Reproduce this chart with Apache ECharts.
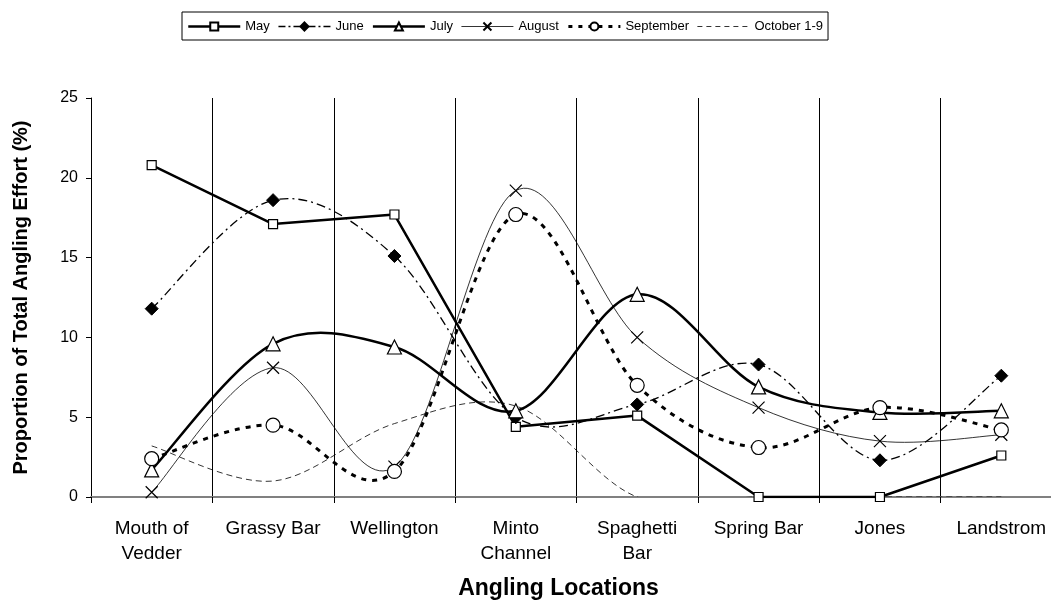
<!DOCTYPE html>
<html>
<head>
<meta charset="utf-8">
<script src="https://cdn.jsdelivr.net/npm/echarts@6/dist/echarts.min.js"></script>
<style>
  html, body { margin: 0; padding: 0; background: #fff; overflow: hidden; }
  #chart { width: 1080px; height: 600px; }
</style>
</head>
<body>
<div id="chart"></div>
<script>
const categories = ['Mouth of\nVedder', 'Grassy Bar', 'Wellington', 'Minto\nChannel', 'Spaghetti\nBar', 'Spring Bar', 'Jones', 'Landstrom'];
const may       = [20.8, 17.1, 17.7, 4.4, 5.1, 0, 0, 2.6];
const june      = [11.8, 18.6, 15.1, 5.0, 5.8, 8.3, 2.3, 7.6];
const july      = [1.7, 9.6, 9.4, 5.4, 12.7, 6.9, 5.3, 5.4];
const august    = [0.3, 8.1, 1.9, 19.2, 10.0, 5.6, 3.5, 3.9];
const september = [2.4, 4.5, 1.6, 17.7, 7.0, 3.1, 5.6, 4.2];
const october   = [3.2, 1.0, 4.6, 5.7, 0, 0, 0, 0];
const yTicks = [0, 5, 10, 15, 20, 25];

const FONT = 'Liberation Sans, Arial, sans-serif';
const chart = echarts.init(document.getElementById('chart'), null, { renderer: 'canvas' });

// Marker series (line hidden; curve drawn by a companion custom series)
function markers(name, values, symbol, size, itemStyle) {
  return {
    name: name, type: 'line', data: values, z: 4,
    symbol: symbol, symbolSize: size, showSymbol: symbol !== 'none',
    lineStyle: { opacity: 0, width: 0 },
    itemStyle: itemStyle,
    emphasis: { disabled: true },
    animation: false
  };
}

// Smoothed curve (Catmull-Rom style Bezier, like a spreadsheet "smoothed line"), positioned via the axes
function curve(name, values, lineWidth, dash) {
  return {
    name: name, type: 'custom', z: 2, silent: true, animation: false, clip: true,
    data: [[0, values[0]]],
    renderItem: function (params, api) {
      const pts = values.map(function (v, i) { return api.coord([i, v]); });
      let d = 'M' + pts[0][0] + ',' + pts[0][1];
      for (let i = 0; i < pts.length - 1; i++) {
        const p0 = pts[i - 1] || pts[i], p1 = pts[i], p2 = pts[i + 1], p3 = pts[i + 2] || pts[i + 1];
        const c1x = p1[0] + (p2[0] - p0[0]) / 6, c1y = p1[1] + (p2[1] - p0[1]) / 6;
        const c2x = p2[0] - (p3[0] - p1[0]) / 6, c2y = p2[1] - (p3[1] - p1[1]) / 6;
        d += ' C' + c1x + ',' + c1y + ' ' + c2x + ',' + c2y + ' ' + p2[0] + ',' + p2[1];
      }
      return {
        type: 'path',
        shape: { pathData: d },
        style: { stroke: '#000', fill: 'none', lineWidth: lineWidth, lineDash: dash || null }
      };
    }
  };
}

const hollow = { color: '#fff', borderColor: '#000', borderWidth: 1.2 };

const option = {
  backgroundColor: '#fff',
  animation: false,
  legend: {
    left: 182,
    top: 12,
    orient: 'horizontal',
    borderColor: '#000',
    borderWidth: 1,
    padding: [8, 5, 7, 5],
    itemWidth: 52,
    itemHeight: 10,
    itemGap: 8,
    selectedMode: false,
    textStyle: { fontFamily: FONT, fontSize: 13, color: '#000' },
    data: [
      { name: 'May', lineStyle: { opacity: 1, width: 2.5, color: '#000', type: 'solid' } },
      { name: 'June', lineStyle: { opacity: 1, width: 1.3, color: '#000', type: [7, 3, 2, 3] } },
      { name: 'July', lineStyle: { opacity: 1, width: 2.5, color: '#000', type: 'solid' } },
      { name: 'August', lineStyle: { opacity: 1, width: 0.8, color: '#000', type: 'solid' } },
      { name: 'September', lineStyle: { opacity: 1, width: 3, color: '#000', type: [4, 6] } },
      { name: 'October 1-9', lineStyle: { opacity: 1, width: 0.8, color: '#000', type: [5, 4] }, itemStyle: { opacity: 0 } }
    ]
  },
  grid: { left: 91, top: 98, width: 971, height: 399, containLabel: false, outerBoundsMode: 'none' },
  xAxis: {
    type: 'category',
    data: categories,
    boundaryGap: true,
    name: 'Angling Locations',
    nameLocation: 'middle',
    nameGap: 80,
    nameTextStyle: { fontFamily: FONT, fontSize: 23, fontWeight: 'bold', color: '#000', padding: [0, 36, 0, 0] },
    axisLine: { show: true, lineStyle: { color: '#808080', width: 2 } },
    axisTick: { show: true, interval: 0, length: 6, lineStyle: { color: '#000', width: 1 } },
    axisLabel: { interval: 0, margin: 19, fontFamily: FONT, fontSize: 19, color: '#000', lineHeight: 25 },
    splitLine: { show: true, interval: 0, lineStyle: { color: '#000', width: 1 } }
  },
  yAxis: {
    type: 'value',
    min: 0,
    max: 25,
    interval: 5,
    name: 'Proportion of Total Angling Effort (%)',
    nameLocation: 'middle',
    nameGap: 60,
    nameRotate: 90,
    nameTextStyle: { fontFamily: FONT, fontSize: 20, fontWeight: 'bold', color: '#000' },
    axisLine: { show: true, lineStyle: { color: '#000', width: 1 } },
    axisTick: { show: true, length: 5, lineStyle: { color: '#000' } },
    axisLabel: { margin: 13, fontFamily: FONT, fontSize: 16, color: '#000',
      formatter: function (v) { return yTicks.indexOf(v) >= 0 ? String(v) : ''; } },
    splitLine: { show: false }
  },
  series: [
    {
      name: 'May', type: 'line', data: may, z: 3, smooth: false, animation: false,
      symbol: 'rect', symbolSize: 9,
      lineStyle: { color: '#000', width: 2.5 },
      itemStyle: hollow,
      emphasis: { disabled: true }
    },
    markers('June', june, 'diamond', 13, { color: '#000', borderColor: '#000', borderWidth: 1 }),
    markers('July', july, 'triangle', 14, hollow),
    markers('August', august, 'path://M0,0L10,10M10,0L0,10', 12, { color: '#000', borderColor: '#000', borderWidth: 1.2 }),
    markers('September', september, 'circle', 14, hollow),
    markers('October 1-9', october, 'none', 1, { color: '#000' }),
    curve('June', june, 1.3, [9, 4, 2, 4]),
    curve('July', july, 2.5, null),
    curve('August', august, 0.8, null),
    curve('September', september, 3, [5, 6]),
    curve('October 1-9', october, 0.8, [6, 4])
  ]
};
chart.setOption(option);
</script>
</body>
</html>
